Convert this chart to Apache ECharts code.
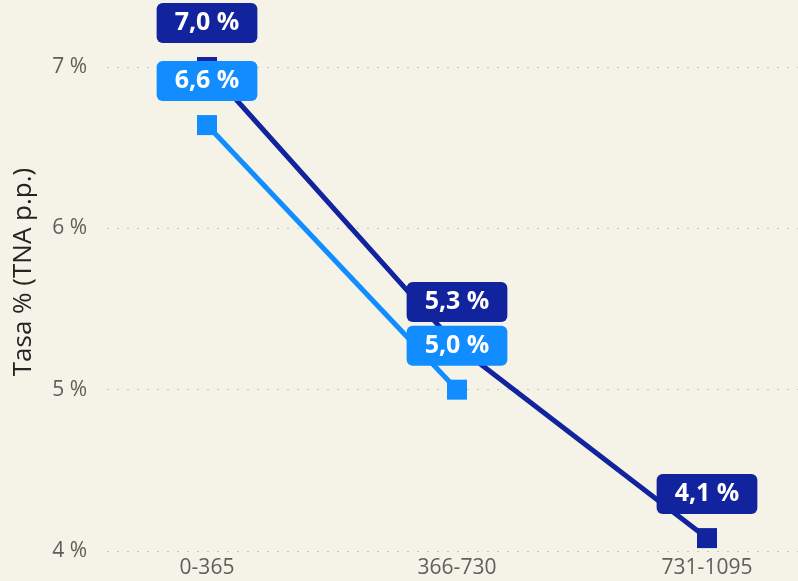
<!DOCTYPE html>
<html>
<head>
<meta charset="utf-8">
<script src="https://cdn.jsdelivr.net/npm/echarts@6/dist/echarts.min.js"></script>
<style>
  html, body { margin: 0; padding: 0; background: #f5f2e7; }
  #main { width: 798px; height: 581px; }
</style>
</head>
<body>
<div id="main"></div>
<script>
// plazos (dias)
var categories = ['0-365', '366-730', '731-1095'];
var serieOscura = [7.0, 5.27, 4.08];
var serieClara = [6.64, 5.0];
var yTicks = [4, 5, 6, 7];

var colorOscuro = '#12239E';
var colorClaro = '#118DFF';
var fuente = 'Open Sans';

function toPoints(arr) {
  return arr.map(function (v, i) { return [i, v]; });
}

function etiqueta(color) {
  return {
    show: true,
    position: 'top',
    distance: 14,
    formatter: function (p) {
      return p.value[1].toFixed(1).replace('.', ',') + ' %';
    },
    color: '#fff',
    fontFamily: fuente,
    fontWeight: 'bold',
    fontSize: 25,
    lineHeight: 28,
    backgroundColor: color,
    padding: [6, 18],
    borderRadius: 6
  };
}

var myChart = echarts.init(document.getElementById('main'));
myChart.setOption({
  backgroundColor: '#f5f2e7',
  animation: false,
  grid: { left: 107, right: 0, top: 67, bottom: 30, outerBoundsMode: 'none' },
  xAxis: {
    type: 'value',
    min: -0.4,
    max: 2.364,
    axisLine: { show: false },
    axisTick: { show: false },
    splitLine: { show: false },
    axisLabel: {
      customValues: [0, 1, 2],
      formatter: function (v) { return categories[v]; },
      color: '#605E5C',
      fontFamily: fuente,
      fontSize: 21,
      margin: 7
    }
  },
  yAxis: {
    type: 'value',
    min: yTicks[0],
    max: yTicks[yTicks.length - 1],
    interval: 1,
    name: 'Tasa % (TNA p.p.)',
    nameLocation: 'middle',
    nameGap: 70,
    nameTextStyle: {
      color: '#252423',
      fontFamily: fuente,
      fontSize: 26,
      padding: [0, 0, 0, 74]
    },
    axisLine: { show: false },
    axisTick: { show: false },
    axisLabel: {
      formatter: '{value} %',
      color: '#605E5C',
      fontFamily: fuente,
      fontSize: 21,
      margin: 20
    },
    splitLine: {
      lineStyle: { color: '#c8c6c4', type: [2, 8], width: 1 }
    }
  },
  series: [
    {
      type: 'line',
      data: toPoints(serieOscura),
      color: colorOscuro,
      lineStyle: { width: 5 },
      symbol: 'rect',
      symbolSize: 20,
      label: etiqueta(colorOscuro)
    },
    {
      type: 'line',
      data: toPoints(serieClara),
      color: colorClaro,
      lineStyle: { width: 5 },
      symbol: 'rect',
      symbolSize: 20,
      label: etiqueta(colorClaro)
    }
  ]
});
</script>
</body>
</html>
